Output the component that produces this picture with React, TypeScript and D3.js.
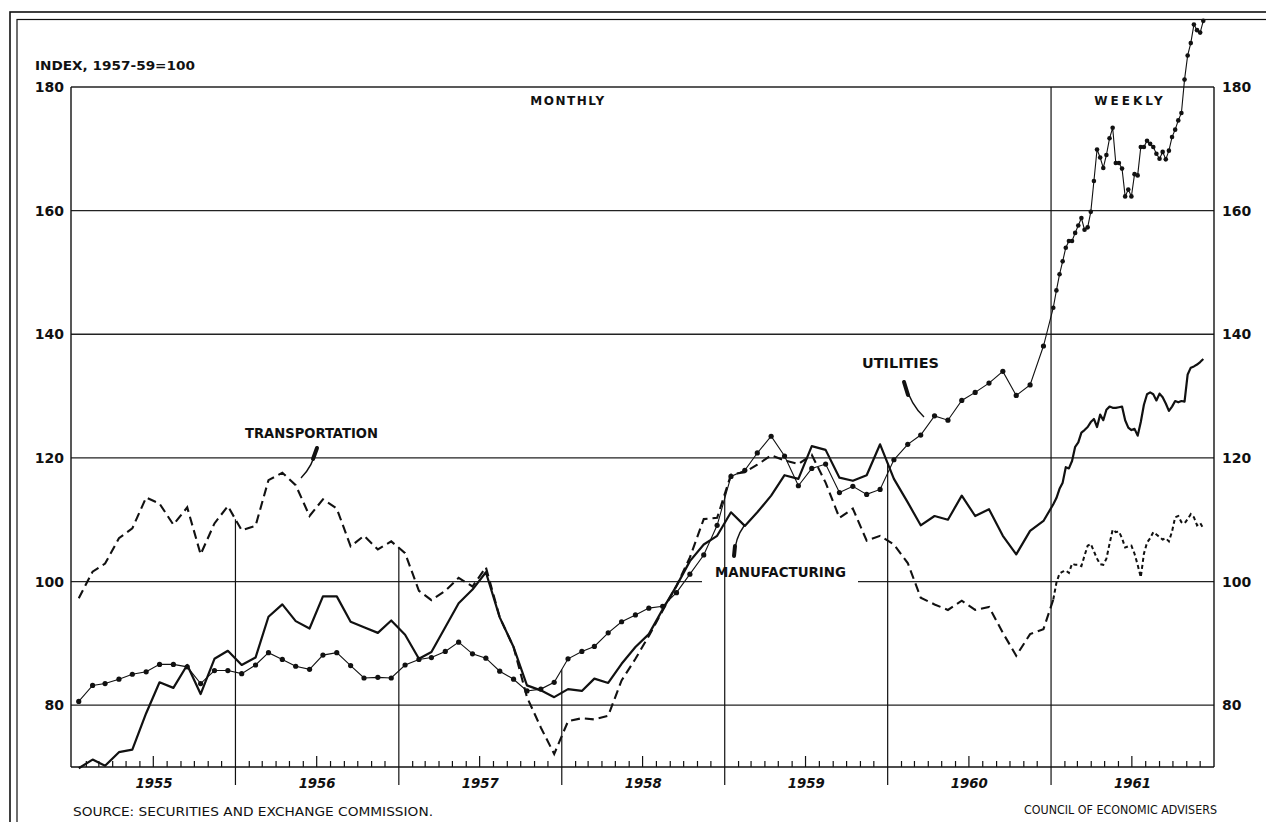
import React from 'react';
import * as d3 from 'd3';

const W = 1266;
const H = 822;

const yearLabels = ['1955', '1956', '1957', '1958', '1959', '1960', '1961'];
const yTicks = [80, 100, 120, 140, 160, 180];

// Monthly, Jan 1955 - Dec 1960
const transportationMonthly = [
  97.3, 101.6, 102.9, 107.0, 108.6, 113.6, 112.6, 109.2, 112.0, 104.4, 109.4, 112.2,
  108.3, 109.0, 116.4, 117.6, 115.6, 110.6, 113.3, 111.8, 105.7, 107.4, 105.2, 106.5,
  104.6, 98.5, 97.0, 98.5, 100.6, 99.2, 102.3, 94.2, 89.4, 81.3, 76.4, 72.1,
  77.4, 77.9, 77.7, 78.3, 84.0, 87.5, 91.2, 95.3, 99.3, 103.9, 110.1, 110.3,
  117.3, 117.7, 118.9, 120.4, 119.6, 119.0, 120.5, 116.0, 110.3, 111.8, 106.6, 107.4,
  106.0, 103.0, 97.4, 96.3, 95.4, 96.9, 95.4, 95.9, 91.7, 88.0, 91.5, 92.3,
];
const manufacturingMonthly = [
  69.8, 71.2, 70.2, 72.4, 72.8, 78.7, 83.7, 82.8, 86.5, 81.8, 87.5, 88.8,
  86.5, 87.7, 94.3, 96.3, 93.6, 92.4, 97.6, 97.6, 93.5, 92.6, 91.7, 93.7,
  91.4, 87.5, 88.6, 92.6, 96.5, 98.7, 101.5, 94.2, 89.4, 83.2, 82.4, 81.3,
  82.6, 82.3, 84.3, 83.6, 86.7, 89.4, 91.5, 95.5, 99.3, 103.3, 106.0, 107.4,
  111.2, 109.0, 111.2, 113.9, 117.2, 116.6, 121.9, 121.3, 116.8, 116.3, 117.2, 122.2,
  116.6, 112.8, 109.1, 110.6, 110.0, 113.9, 110.6, 111.7, 107.4, 104.4, 108.2, 109.8,
];
const utilitiesMonthly = [
  80.6, 83.2, 83.5, 84.2, 85.0, 85.4, 86.6, 86.6, 86.2, 83.5, 85.6, 85.6,
  85.1, 86.5, 88.5, 87.4, 86.3, 85.8, 88.1, 88.5, 86.4, 84.4, 84.5, 84.4,
  86.5, 87.4, 87.7, 88.7, 90.2, 88.3, 87.6, 85.5, 84.2, 82.3, 82.6, 83.7,
  87.5, 88.7, 89.5, 91.7, 93.5, 94.6, 95.7, 96.0, 98.2, 101.2, 104.3, 109.1,
  117.0, 118.0, 120.8, 123.5, 120.3, 115.5, 118.3, 119.0, 114.4, 115.4, 114.1, 114.9,
  119.7, 122.2, 123.7, 126.8, 126.1, 129.3, 130.6, 132.1, 134.0, 130.1, 131.8, 138.1,
];

// Weekly, 1961
const transportationWeekly = [
  97.1, 99.8, 101.3, 101.6, 101.8, 101.4, 102.9, 102.7, 102.7, 102.5, 104.2, 105.8,
  106.1, 104.9, 103.7, 102.8, 102.7, 103.7, 106.1, 108.4, 108.0, 108.1, 107.0, 105.5,
  105.7, 105.8, 104.5, 102.7, 100.7, 104.5, 106.3, 107.0, 108.0, 107.6, 107.2, 106.8,
  107.0, 106.5, 108.1, 110.4, 110.6, 109.6, 109.4, 110.1, 110.9, 110.4, 109.1, 109.5, 108.6,
];
const manufacturingWeekly = [
  112.5, 113.5, 115.0, 116.0, 118.5, 118.3, 119.5, 121.8, 122.5, 124.1, 124.5, 125.0,
  125.8, 126.3, 125.0, 127.0, 126.1, 127.8, 128.3, 128.1, 128.1, 128.2, 128.3, 126.1,
  124.9, 124.5, 124.7, 123.6, 125.8, 128.6, 130.3, 130.6, 130.3, 129.3, 130.4, 129.8,
  128.8, 127.6, 128.3, 129.2, 129.0, 129.2, 129.1, 133.5, 134.6, 134.8, 135.1, 135.5, 136.0,
];
const utilitiesWeekly = [
  144.3, 147.1, 149.7, 151.8, 154.0, 155.1, 155.1, 156.4, 157.6, 158.8, 156.9, 157.3,
  159.8, 164.8, 169.9, 168.6, 166.9, 169.0, 171.7, 173.4, 167.7, 167.7, 166.8, 162.3,
  163.4, 162.3, 165.9, 165.7, 170.3, 170.3, 171.3, 170.8, 170.3, 169.2, 168.4, 169.5,
  168.3, 169.7, 171.9, 173.1, 174.6, 175.8, 181.2, 185.1, 187.1, 190.1, 189.2, 188.8, 190.7,
];

const monthDates = d3.range(transportationMonthly.length).map((i) => new Date(1955, i, 15));
const weekDates = d3.range(utilitiesWeekly.length).map((k) => new Date(1961, 0, 6 + 7 * k));

const PLOT = { left: 71, right: 1214, top: 87, bottom: 767 };

const x = d3.scaleTime().domain([new Date(1955, 0, 1), new Date(1962, 0, 1)]).range([72.5, 1214]);
const y = d3.scaleLinear().domain([70, 180]).range([PLOT.bottom, PLOT.top]);

type Pt = [Date, number];
const zip = (d: Date[], v: number[]): Pt[] => d.map((dd, i) => [dd, v[i]]);

const line = d3
  .line<Pt>()
  .x((p) => x(p[0]))
  .y((p) => y(p[1]));

const allDates = monthDates.concat(weekDates);
const transAll = zip(allDates, transportationMonthly.concat(transportationWeekly));
const manuAll = zip(allDates, manufacturingMonthly.concat(manufacturingWeekly));
const utilAll = zip(allDates, utilitiesMonthly.concat(utilitiesWeekly));

const nM = monthDates.length;
const transMonthlyPts = transAll.slice(0, nM + 1);
const transWeeklyPts = transAll.slice(nM);

function valueAt(pts: Pt[], d: Date): number {
  const t = +d;
  for (let i = 0; i < pts.length - 1; i++) {
    const a = +pts[i][0];
    const b = +pts[i + 1][0];
    if (t >= a && t <= b) {
      const f = (t - a) / (b - a);
      return pts[i][1] + f * (pts[i + 1][1] - pts[i][1]);
    }
  }
  return pts[0][1];
}

const yearStarts = d3.timeYear.range(new Date(1956, 0, 1), new Date(1962, 0, 1));
const monthTicks = d3
  .timeMonth.range(new Date(1955, 0, 1), new Date(1962, 0, 1))
  .filter((d) => d.getMonth() !== 0);

const FONT = '"DejaVu Sans", "Liberation Sans", sans-serif';
const INK = '#111';

function Leader({ d, thick }: { d: string; thick: string }) {
  return (
    <g>
      <path d={d} fill="none" stroke={INK} strokeWidth={1.4} />
      <path d={thick} fill="none" stroke={INK} strokeWidth={4} strokeLinecap="round" />
    </g>
  );
}

export default function App() {
  const gap100 = [702, 858];
  return (
    <svg
      width={W}
      height={H}
      viewBox={`0 0 ${W} ${H}`}
      style={{ position: 'absolute', left: 0, top: 0, background: '#fff' }}
    >
      <rect x={0} y={0} width={W} height={H} fill="#fff" />
      {/* double frame */}
      <rect x={10} y={12} width={1300} height={850} fill="none" stroke={INK} strokeWidth={1.6} />
      <rect x={17} y={19.5} width={1290} height={840} fill="none" stroke={INK} strokeWidth={1.2} />

      {/* horizontal grid */}
      {yTicks.map((t) => (
        <line key={t} x1={PLOT.left} x2={PLOT.right} y1={y(t)} y2={y(t)} stroke="#222" strokeWidth={1.3} />
      ))}
      <rect x={gap100[0]} y={y(100) - 2.5} width={gap100[1] - gap100[0]} height={5} fill="#fff" />

      {/* plot frame sides and bottom */}
      <line x1={PLOT.left} x2={PLOT.left} y1={PLOT.top} y2={PLOT.bottom} stroke={INK} strokeWidth={1.4} />
      <line x1={PLOT.right} x2={PLOT.right} y1={PLOT.top} y2={PLOT.bottom} stroke={INK} strokeWidth={1.4} />
      <line x1={PLOT.left} x2={PLOT.right} y1={PLOT.bottom} y2={PLOT.bottom} stroke={INK} strokeWidth={1.6} />

      {/* year boundaries */}
      {yearStarts.map((d, i) => {
        const isWeekly = d.getFullYear() === 1961;
        const top = isWeekly
          ? PLOT.top
          : y(Math.max(valueAt(transAll, d), valueAt(manuAll, d), valueAt(utilAll, d)));
        return (
          <line key={i} x1={x(d)} x2={x(d)} y1={top} y2={785} stroke={INK} strokeWidth={1.2} />
        );
      })}

      {/* month ticks */}
      {monthTicks.map((d, i) => (
        <line
          key={i}
          x1={x(d)}
          x2={x(d)}
          y1={PLOT.bottom}
          y2={PLOT.bottom - (d.getMonth() === 6 ? 11 : 6)}
          stroke={INK}
          strokeWidth={1.2}
        />
      ))}

      {/* series */}
      <path d={line(transMonthlyPts) || ''} fill="none" stroke={INK} strokeWidth={2.1} strokeDasharray="9,5" />
      <path d={line(transWeeklyPts) || ''} fill="none" stroke={INK} strokeWidth={2} strokeDasharray="4,3" />
      <path d={line(manuAll) || ''} fill="none" stroke={INK} strokeWidth={2.2} strokeLinejoin="round" />
      <path d={line(utilAll) || ''} fill="none" stroke={INK} strokeWidth={1.1} />
      {utilAll.map((p, i) => (
        <circle key={i} cx={x(p[0])} cy={y(p[1])} r={i < nM ? 2.6 : 2.3} fill={INK} />
      ))}

      {/* axis labels */}
      <text x={35} y={70} fontFamily={FONT} fontSize={13} fontWeight="bold" textLength={160} lengthAdjust="spacingAndGlyphs" fill={INK}>
        INDEX, 1957-59=100
      </text>
      {yTicks.map((t) => (
        <text key={'l' + t} x={64} y={y(t) + 5} textAnchor="end" fontFamily={FONT} fontSize={14} fontWeight="bold" fill={INK}>
          {t}
        </text>
      ))}
      {yTicks.map((t) => (
        <text key={'r' + t} x={1222} y={y(t) + 5} fontFamily={FONT} fontSize={14} fontWeight="bold" fill={INK}>
          {t}
        </text>
      ))}
      {yearLabels.map((lab, i) => {
        const a = x(new Date(1955 + i, 0, 1));
        const b = x(new Date(1956 + i, 0, 1));
        return (
          <text key={lab} x={(a + b) / 2} y={788} textAnchor="middle" fontFamily={FONT} fontSize={14} fontWeight="bold" fontStyle="italic" textLength={37} lengthAdjust="spacingAndGlyphs" fill={INK}>
            {lab}
          </text>
        );
      })}

      <text x={568} y={105} textAnchor="middle" fontFamily={FONT} fontSize={12} fontWeight="bold" letterSpacing={1.5} fill={INK}>
        MONTHLY
      </text>
      <text x={1130} y={105} textAnchor="middle" fontFamily={FONT} fontSize={12} fontWeight="bold" letterSpacing={3} fill={INK}>
        WEEKLY
      </text>

      {/* series labels */}
      <text x={245} y={438} fontFamily={FONT} fontSize={13.5} fontWeight="bold" textLength={133} lengthAdjust="spacingAndGlyphs" fill={INK}>
        TRANSPORTATION
      </text>
      <Leader d="M317,447 Q313,466 301,478" thick="M317,448 L313,459" />
      <text x={862} y={368} fontFamily={FONT} fontSize={13.5} fontWeight="bold" textLength={77} lengthAdjust="spacingAndGlyphs" fill={INK}>
        UTILITIES
      </text>
      <Leader d="M904,382 Q911,405 924,417" thick="M904,382 L908,395" />
      <text x={715} y={577} fontFamily={FONT} fontSize={13.5} fontWeight="bold" textLength={131} lengthAdjust="spacingAndGlyphs" fill={INK}>
        MANUFACTURING
      </text>
      <Leader d="M734,557 Q735,538 744,526" thick="M734,556 L735,546" />

      {/* footers */}
      <text x={73} y={816} fontFamily={FONT} fontSize={12} textLength={360} lengthAdjust="spacingAndGlyphs" fill={INK}>
        SOURCE: SECURITIES AND EXCHANGE COMMISSION.
      </text>
      <text x={1024} y={814} fontFamily={FONT} fontSize={11.5} textLength={193} lengthAdjust="spacingAndGlyphs" fill={INK}>
        COUNCIL OF ECONOMIC ADVISERS
      </text>
    </svg>
  );
}
